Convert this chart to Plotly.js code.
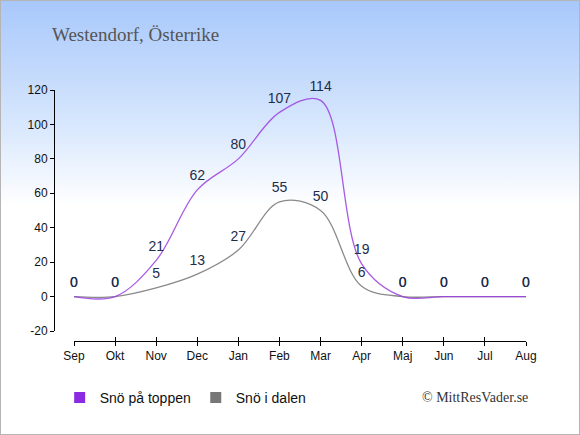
<!DOCTYPE html>
<html>
<head>
<meta charset="utf-8">
<script src="https://cdn.plot.ly/plotly-3.0.1.min.js"></script>
<style>
html,body{margin:0;padding:0;}
#bg{position:absolute;left:0;top:0;width:580px;height:435px;box-sizing:border-box;border:1px solid #b5b5b5;
background:linear-gradient(to bottom,#a8c8fb 0px,#d6e6fd 120px,#ffffff 205px,#ffffff 435px);}
#chart{position:absolute;left:0;top:0;width:580px;height:435px;}
</style>
</head>
<body>
<div id="bg"></div>
<div id="chart"></div>
<script>
const months = ["Sep","Okt","Nov","Dec","Jan","Feb","Mar","Apr","Maj","Jun","Jul","Aug"];
const topSnow = [0,0,21,62,80,107,114,19,0,0,0,0];
const valleySnow = [0,0,5,13,27,55,50,6,0,0,0,0];
const seriesNames = ["Snö på toppen","Snö i dalen"];
const yTicks = [-20,0,20,40,60,80,100,120];

const idx = months.map((m,i)=>i);
const purple = "#9b3fe0";
const gray = "#8a8a8a";
const labelFont = {family:"Liberation Sans, Arial, sans-serif", size:14, color:"#1d2d4d"};

const traces = [
  {x:idx, y:valleySnow, mode:"lines", line:{color:gray, width:1.3, shape:"spline", smoothing:1}, showlegend:false, hoverinfo:"skip", cliponaxis:false},
  {x:idx, y:topSnow, mode:"lines", line:{color:purple, width:1.3, shape:"spline", smoothing:1}, opacity:0.85, showlegend:false, hoverinfo:"skip", cliponaxis:false},
  {x:idx, y:valleySnow, mode:"markers+text", text:valleySnow.map(String), textposition:"top center", textfont:labelFont,
   marker:{size:8, opacity:0}, showlegend:false, hoverinfo:"skip", cliponaxis:false},
  {x:idx, y:topSnow, mode:"markers+text", text:topSnow.map(String), textposition:"top center", textfont:labelFont,
   marker:{size:8, opacity:0}, showlegend:false, hoverinfo:"skip", cliponaxis:false},
  {x:[null], y:[null], mode:"markers", name:seriesNames[0], marker:{symbol:"square", size:11, color:"#8a2be2"}},
  {x:[null], y:[null], mode:"markers", name:seriesNames[1], marker:{symbol:"square", size:11, color:"#777777"}}
];

const tickFont = {family:"Liberation Sans, Arial, sans-serif", size:12, color:"#111111"};
const layout = {
  width:580, height:435,
  margin:{l:54, r:54, t:90, b:94, pad:0},
  paper_bgcolor:"rgba(0,0,0,0)", plot_bgcolor:"rgba(0,0,0,0)",
  showlegend:true,
  title:{text:"Westendorf, Österrike", font:{family:"Liberation Serif, Times New Roman, serif", size:19, color:"#555555"},
    xref:"container", yref:"container", x:52/580, xanchor:"left", y:1-34/435, yanchor:"middle"},
  xaxis:{domain:[20/472,1], range:[0,11], tickmode:"array", tickvals:idx, ticktext:months, anchor:"free", position:0,
    showline:true, linecolor:"#000", linewidth:1, ticks:"outside", ticklen:4, tickcolor:"#000",
    showgrid:false, zeroline:false, tickfont:tickFont, fixedrange:true},
  xaxis2:{domain:[20/472,1], range:[0,11], tickmode:"array", tickvals:idx, overlaying:"x", anchor:"free", position:0,
    showline:false, ticks:"inside", ticklen:4, tickcolor:"#000", showticklabels:false, showgrid:false, zeroline:false},
  yaxis:{domain:[10/251,1], range:[-20,120], tickmode:"array", tickvals:yTicks, ticktext:yTicks.map(String), anchor:"free", position:0,
    showline:true, linecolor:"#000", linewidth:1, ticks:"outside", ticklen:4, tickcolor:"#000",
    showgrid:false, zeroline:false, tickfont:tickFont, fixedrange:true},
  legend:{orientation:"h", x:0.012, xanchor:"left", y:-0.227, yanchor:"middle",
    font:{family:"Liberation Sans, Arial, sans-serif", size:14, color:"#111"}, bgcolor:"rgba(0,0,0,0)", itemclick:false},
  annotations:[{text:"© MittResVader.se", xref:"paper", yref:"paper", x:1.008, xanchor:"right", y:-0.227, yanchor:"middle",
    showarrow:false, font:{family:"Liberation Serif, Times New Roman, serif", size:14, color:"#333"}}]
};
// dummy trace to activate xaxis2
traces.push({x:[0], y:[null], xaxis:"x2", mode:"lines", showlegend:false, hoverinfo:"skip"});
Plotly.newPlot("chart", traces, layout, {staticPlot:true, displayModeBar:false});
</script>
</body>
</html>
